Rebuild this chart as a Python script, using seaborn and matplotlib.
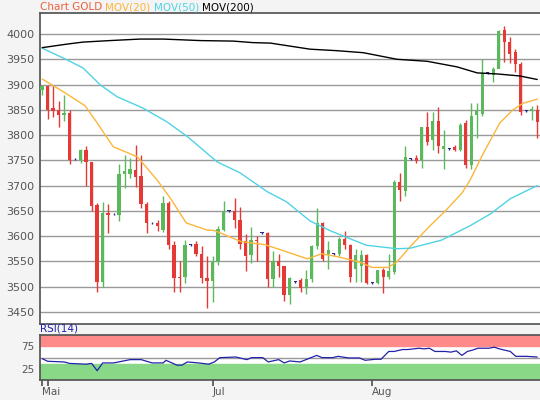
import numpy as np
import pandas as pd
import matplotlib
matplotlib.use("Agg")
import matplotlib.pyplot as plt
import seaborn as sns

# OHLC per trading day
opens = [3890, 3897, 3853, 3850, 3840, 3843, 3752, 3750, 3770, 3746,
         3662, 3510, 3645, 3643, 3642, 3722, 3722, 3730, 3718, 3663,
         3625, 3625, 3612, 3665, 3583, 3520, 3520, 3583, 3585, 3565,
         3518, 3512, 3548, 3613, 3650, 3650, 3632, 3590, 3562, 3593,
         3606, 3607, 3515, 3550, 3540, 3483, 3510, 3513, 3498, 3515,
         3580, 3625, 3565, 3565, 3565, 3595, 3583, 3535, 3540, 3562,
         3508, 3508, 3532, 3520, 3528, 3708, 3690, 3753, 3755, 3750,
         3815, 3790, 3828, 3773, 3772, 3777, 3770, 3823, 3740, 3840,
         3842, 3923, 3918, 3930, 4007, 3985, 3965, 3940, 3848, 3848,
         3850]
closes = [3897, 3850, 3848, 3840, 3843, 3750, 3752, 3770, 3746, 3660,
          3510, 3645, 3642, 3643, 3722, 3728, 3732, 3717, 3663, 3625,
          3625, 3620, 3665, 3583, 3517, 3517, 3582, 3583, 3565, 3518,
          3512, 3548, 3615, 3650, 3650, 3632, 3585, 3560, 3593, 3590,
          3606, 3515, 3550, 3540, 3483, 3518, 3510, 3498, 3515, 3580,
          3625, 3555, 3572, 3565, 3595, 3583, 3520, 3562, 3563, 3508,
          3508, 3532, 3520, 3530, 3708, 3692, 3757, 3753, 3748, 3815,
          3787, 3828, 3778, 3778, 3772, 3770, 3820, 3740, 3837, 3848,
          3923, 3923, 3930, 4005, 3985, 3960, 3940, 3845, 3848, 3852,
          3825]
highs = [3900, 3900, 3900, 3868, 3880, 3850, 3754, 3772, 3778, 3746,
         3665, 3668, 3663, 3645, 3742, 3760, 3755, 3780, 3760, 3668,
         3627, 3632, 3680, 3670, 3590, 3550, 3592, 3585, 3590, 3580,
         3560, 3560, 3620, 3670, 3652, 3676, 3658, 3605, 3618, 3600,
         3608, 3608, 3570, 3565, 3540, 3520, 3512, 3517, 3533, 3583,
         3655, 3627, 3590, 3567, 3598, 3610, 3585, 3575, 3572, 3565,
         3510, 3532, 3537, 3565, 3712, 3725, 3778, 3755, 3760, 3815,
         3845, 3845, 3855, 3810, 3774, 3780, 3823, 3830, 3863, 3863,
         3950, 3925, 3935, 4008, 4015, 3995, 3970, 3945, 3850, 3858,
         3860]
lows = [3880, 3832, 3835, 3815, 3827, 3743, 3750, 3745, 3700, 3650,
        3490, 3500, 3607, 3641, 3630, 3695, 3715, 3697, 3655, 3607,
        3623, 3610, 3608, 3575, 3490, 3490, 3507, 3581, 3560, 3508,
        3458, 3470, 3543, 3610, 3648, 3617, 3575, 3530, 3547, 3550,
        3604, 3500, 3500, 3520, 3472, 3465, 3508, 3490, 3485, 3510,
        3575, 3550, 3535, 3563, 3560, 3575, 3510, 3510, 3510, 3505,
        3506, 3505, 3487, 3515, 3525, 3670, 3680, 3751, 3745, 3735,
        3780, 3770, 3765, 3732, 3770, 3768, 3768, 3735, 3733, 3795,
        3838, 3921, 3905, 3932, 3945, 3943, 3925, 3840, 3846, 3830,
        3795]

# moving averages sampled along the chart (day position, value)
ma20_idx = [0, 3.8, 7.8, 10, 12.9, 17.3, 20.9, 23.3, 26.2, 30, 31.3, 36.2, 40.5, 44.4, 48.2,
            50.8, 53.8, 57.6, 60, 62.9, 64.5, 66.9, 70.1, 73.3, 76.3, 77.8, 80.2, 83.2, 85.6, 87.4, 90]
ma20_val = [3911, 3886, 3858, 3824, 3777, 3757, 3711, 3675, 3626, 3612, 3611, 3589, 3583, 3569, 3555,
            3565, 3559, 3549, 3538, 3538, 3549, 3579, 3616, 3650, 3685, 3711, 3764, 3824, 3850, 3863, 3871]
ma50_idx = [0, 4.5, 7.4, 10.6, 13.6, 18.4, 22.7, 26.4, 31.8, 36, 40.9, 44.4, 48.7, 52.5,
            58.9, 64.5, 66.9, 72.6, 77.7, 81.5, 85.1, 88.3, 90]
ma50_val = [3972, 3949, 3933, 3899, 3876, 3853, 3826, 3797, 3747, 3725, 3688, 3668, 3630, 3610,
            3582, 3575, 3576, 3592, 3620, 3644, 3674, 3691, 3700]
ma200_idx = [0, 4.5, 7.4, 12.3, 17.8, 22, 28.8, 34.7, 38.3, 41.5, 48.7, 53.6, 58.4, 64.5,
             70, 75.4, 79.1, 82.7, 86.8, 90]
ma200_val = [3973, 3980, 3984, 3987, 3990, 3990, 3987, 3986, 3983, 3982, 3970, 3967, 3963, 3950,
             3946, 3935, 3923, 3921, 3917, 3910]

rsi_idx = [0, 1, 4, 5, 8, 9, 10, 11, 13, 16, 18, 20, 22, 22.5, 24.5, 25.4, 26.4, 28.4, 30.3,
           31.3, 32.3, 35.2, 37.2, 38.1, 40.1, 41.1, 43, 44, 45, 46.9, 49.9, 50.9, 52.8, 53.8,
           55.7, 57.7, 58.7, 60.6, 61.6, 63, 64, 65.5, 66.5, 68.5, 69.4, 70.4, 71.4, 73.3, 74.3,
           75.3, 76.3, 77.3, 78.2, 79.2, 81.2, 82.2, 83.1, 85.1, 86.1, 88, 90]
rsi_val = [47.7, 41.8, 40.3, 37, 35.3, 37, 20.7, 38.1, 38.1, 45.5, 45.5, 38.1, 38.1, 44, 33.1,
           33.1, 40.3, 38.1, 35.3, 40.3, 49.9, 51.3, 45.5, 49.9, 49.9, 40.3, 45.5, 38.1, 42.5,
           40.3, 54.9, 49.9, 49.9, 52.8, 49.2, 49.2, 44, 46.3, 46.3, 63.7, 63.7, 68, 68, 70.9,
           69.5, 70.9, 63.7, 63.7, 62.2, 65.1, 54.9, 63.7, 66.6, 70.9, 70.9, 73.2, 69.5, 63.7,
           52.8, 52.8, 51.3]

tick_idx = [0, 1, 31, 60]
tick_labels = ["Mai", "", "Jul", "Aug"]

sns.set_theme(style="white")
plt.rcParams['font.family'] = ['DejaVu Sans']

n_days = len(opens)
fig = plt.figure(figsize=(5.4, 4.0), dpi=100, facecolor="#f4f4f4")
ax = fig.add_axes([0.074, 0.19, 0.926, 0.778])
ax_rsi = fig.add_axes([0.074, 0.05, 0.926, 0.112])

df = pd.DataFrame({"day": np.arange(n_days), "open": opens, "close": closes,
                   "high": highs, "low": lows})
green, red, doji = "#5cb85c", "#e53935", "#2a2a8a"
for _, r in df.iterrows():
    if abs(r.close - r.open) < 2:
        c = doji if r.high - r.low < 6 else (green if r.close >= r.open else red)
    else:
        c = green if r.close > r.open else red
    ax.vlines(r.day, r.low, r.high, color=c, lw=1, zorder=3)
    lo, hi = min(r.open, r.close), max(r.open, r.close)
    ax.bar(r.day, max(hi - lo, 1.5), bottom=lo, width=0.62, color=c, lw=0, zorder=4)

sns.lineplot(x=ma20_idx, y=ma20_val, ax=ax, color="#fbb63b", lw=1, zorder=5)
sns.lineplot(x=ma50_idx, y=ma50_val, ax=ax, color="#4fd3e3", lw=1, zorder=5)
sns.lineplot(x=ma200_idx, y=ma200_val, ax=ax, color="black", lw=1, zorder=5)

xlim = (-0.4, n_days - 0.5)
ax.set_xlim(*xlim)
ax.set_ylim(3426, 4042)
ax.set_yticks(np.arange(3450, 4001, 50))
ax.yaxis.grid(True, color="#999999", lw=1)
ax.set_axisbelow(True)
ax.set_xticks([])
ax.tick_params(axis="y", labelsize=8, labelcolor="#555555", length=0, pad=4)
for s in ax.spines.values():
    s.set_color("#555555")
ax.spines["right"].set_visible(False)

ax_rsi.axhspan(75, 100, color="#ff8a8a", zorder=1)
ax_rsi.axhspan(0, 35, color="#88d888", zorder=1)
ax_rsi.axhline(50, color="#999999", lw=1, zorder=2)
sns.lineplot(x=rsi_idx, y=rsi_val, ax=ax_rsi, color="#2222aa", lw=0.9, zorder=3)
ax_rsi.set_xlim(*xlim)
ax_rsi.set_ylim(0, 100)
ax_rsi.set_yticks([25, 75])
ax_rsi.set_xticks(tick_idx)
ax_rsi.set_xticklabels(tick_labels)
ax_rsi.tick_params(axis="both", labelsize=7.5, labelcolor="#555555")
ax_rsi.tick_params(axis="y", length=0, pad=4)
ax_rsi.tick_params(axis="x", length=4, color="#555555", bottom=True, pad=1)
for lab in ax_rsi.get_xticklabels():
    lab.set_horizontalalignment("left")
for s in ax_rsi.spines.values():
    s.set_color("#555555")
ax_rsi.spines["right"].set_visible(False)

fig.text(0.074, 0.166, "RSI(14)", fontsize=7.5, color="#2222aa", va="bottom")
parts = [("Chart GOLD", "#e8603c"), ("MOV(20)", "#fbb63b"), ("MOV(50)", "#4fd3e3"), ("MOV(200)", "black")]
x = 0.074
fig.canvas.draw()
rend = fig.canvas.get_renderer()
for txt, col in parts:
    t = fig.text(x, 0.97, txt, fontsize=7.5, color=col, va="bottom")
    x += t.get_window_extent(rend).width / fig.bbox.width + 0.006

fig.savefig("out.png", dpi=100, facecolor=fig.get_facecolor())
